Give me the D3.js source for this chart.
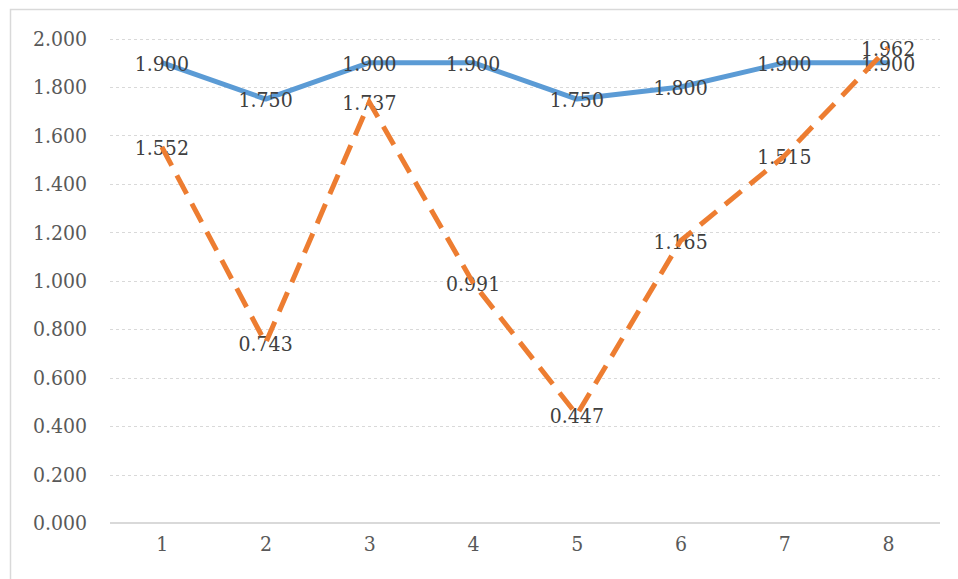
<!DOCTYPE html>
<html><head><meta charset="utf-8">
<script src="https://cdn.jsdelivr.net/npm/d3@7"></script>
<style>html,body{margin:0;padding:0;background:#fff;}</style>
</head><body>
<svg id="chart" width="958" height="579"></svg>
<script>
const categories = ["1","2","3","4","5","6","7","8"];
const seriesA = [1.900, 1.750, 1.900, 1.900, 1.750, 1.800, 1.900, 1.900];
const seriesB = [1.552, 0.743, 1.737, 0.991, 0.447, 1.165, 1.515, 1.962];
const yTicks = [0, 0.2, 0.4, 0.6, 0.8, 1.0, 1.2, 1.4, 1.6, 1.8, 2.0];

(function () {
const svg = d3.select("#chart");
const font = "'DejaVu Serif Condensed', 'DejaVu Serif', serif";
const fs = 21;
const mLeft = 110, mRight = 940, mTop = 38.5, mBottom = 523;

svg.append("rect").attr("x", 10.5).attr("y", 9.5).attr("width", 960).attr("height", 600)
  .attr("fill", "#fff").attr("stroke", "#d9d9d9").attr("stroke-width", 1.5);

const x = d3.scalePoint().domain(categories).range([mLeft, mRight]).padding(0.5);
const y = d3.scaleLinear().domain([0, 2]).range([mBottom, mTop]);

// gridlines
svg.append("g").selectAll("line").data(yTicks.filter(d => d > 0)).join("line")
  .attr("x1", mLeft).attr("x2", mRight)
  .attr("y1", d => Math.round(y(d)) + 0.5).attr("y2", d => Math.round(y(d)) + 0.5)
  .attr("stroke", "#d9d9d9").attr("stroke-width", 1).attr("stroke-dasharray", "3,3");

// x axis
const xAxis = svg.append("g").attr("transform", `translate(0,${mBottom})`)
  .call(d3.axisBottom(x).tickSize(0).tickPadding(13));
xAxis.select(".domain").attr("stroke", "#d9d9d9").attr("stroke-width", 2)
  .attr("d", `M${mLeft},0H${mRight}`);
xAxis.selectAll("text").attr("font-family", font).attr("font-size", fs).attr("fill", "#595959")
  .attr("dy", "0.71em");

// y axis
const yAxis = svg.append("g").attr("transform", `translate(${mLeft},0)`)
  .call(d3.axisLeft(y).tickValues(yTicks).tickFormat(d3.format(".3f")).tickSize(0).tickPadding(23));
yAxis.select(".domain").remove();
yAxis.selectAll("text").attr("font-family", font).attr("font-size", fs).attr("fill", "#595959");

const line = d3.line().x((d, i) => x(categories[i])).y(d => y(d));

svg.append("path").datum(seriesA).attr("d", line).attr("fill", "none")
  .attr("stroke", "#5b9bd5").attr("stroke-width", 5).attr("stroke-linejoin", "round");

const labels = svg.append("g").attr("font-family", font).attr("font-size", fs).attr("fill", "#404040")
  .attr("text-anchor", "middle");
[seriesA, seriesB].forEach(s => {
  labels.append("g").selectAll("text").data(s).join("text")
    .attr("x", (d, i) => x(categories[i]))
    .attr("y", d => y(d))
    .attr("dy", "0.38em")
    .text(d => d3.format(".3f")(d));
});

svg.append("path").datum(seriesB).attr("d", line).attr("fill", "none")
  .attr("stroke", "#ed7d31").attr("stroke-width", 5).attr("stroke-dasharray", "21,11");
})();
</script>
</body></html>
